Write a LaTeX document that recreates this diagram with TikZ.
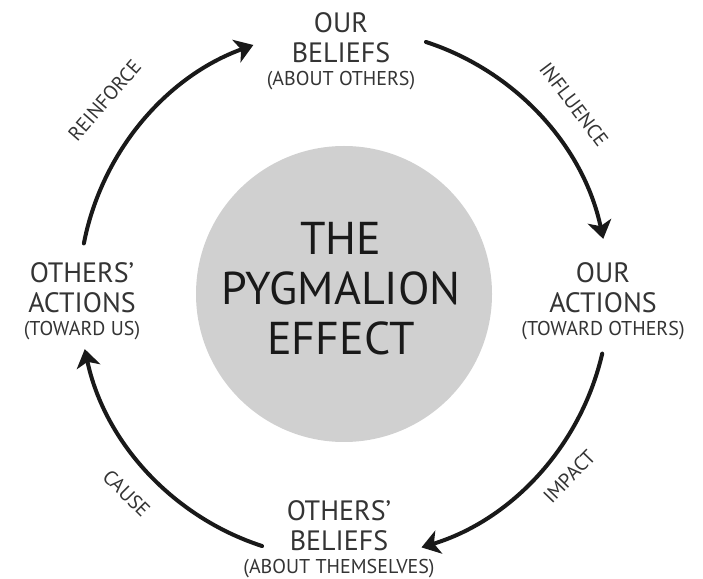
\documentclass[tikz,border=0pt]{standalone}
\usepackage{fontspec}
\setmainfont{PT Sans}
\usetikzlibrary{arrows.meta, calc}

\definecolor{discgray}{RGB}{208,208,208}
\definecolor{inkgray}{RGB}{52,52,52}
\newcommand{\smallcaption}{\fontsize{20}{22}\selectfont}

\begin{document}
\begin{tikzpicture}[x=1pt, y=1pt,
  stage/.style={align=center, inner sep=1pt, text=inkgray, font=\fontsize{28}{30}\selectfont},
  verb/.style={text=inkgray, font=\fontsize{20}{22}\selectfont},
  cyclearrow/.style={line width=4pt, line cap=round, draw=black!90,
    -{Stealth[length=18pt, width=24pt, inset=5pt]}}]
\useasboundingbox (0,0) rectangle (703,578);
\coordinate (origin) at (344,284);
% Draw disc
\fill[discgray] (origin) circle [radius=148];
\node[align=center, text=black!90, font=\fontsize{46}{50}\selectfont] (title) at (341,289) {THE\\PYGMALION\\EFFECT};
% Draw stages
\node[stage] (ourbeliefs) at (341,527) {OUR\\BELIEFS\\[-7pt]{\smallcaption (ABOUT OTHERS)}};
\node[stage] (ouractions) at (603,277) {OUR\\ACTIONS\\[-7pt]{\smallcaption (TOWARD OTHERS)}};
\node[stage] (othersbeliefs) at (339,39) {OTHERS'\\BELIEFS\\[-7pt]{\smallcaption (ABOUT THEMSELVES)}};
\node[stage] (othersactions) at (82,277) {OTHERS'\\ACTIONS\\[-7pt]{\smallcaption (TOWARD US)}};
% Draw arc ends
\coordinate (influencestart) at ($(origin)+(72:265)$);
\coordinate (impactstart) at ($(origin)+(-13:265)$);
\coordinate (causestart) at ($(origin)+(-108:265)$);
\coordinate (reinforcestart) at ($(origin)+(169:265)$);
% Draw arcs
\draw[cyclearrow] (influencestart) arc [start angle=72, end angle=12, radius=265];
\draw[cyclearrow] (impactstart) arc [start angle=-13, end angle=-73, radius=265];
\draw[cyclearrow] (causestart) arc [start angle=-108, end angle=-168, radius=265];
\draw[cyclearrow] (reinforcestart) arc [start angle=169, end angle=110, radius=265];
% Draw verbs
\node[verb, rotate=-53] (influence) at ($(origin)+(39.5:298)$) {INFLUENCE};
\node[verb, rotate=46] (impact) at ($(origin)+(-39:290)$) {IMPACT};
\node[verb, rotate=-45] (cause) at ($(origin)+(222.5:295)$) {CAUSE};
\node[verb, rotate=49] (reinforce) at ($(origin)+(141:308)$) {REINFORCE};
\end{tikzpicture}
\end{document}
